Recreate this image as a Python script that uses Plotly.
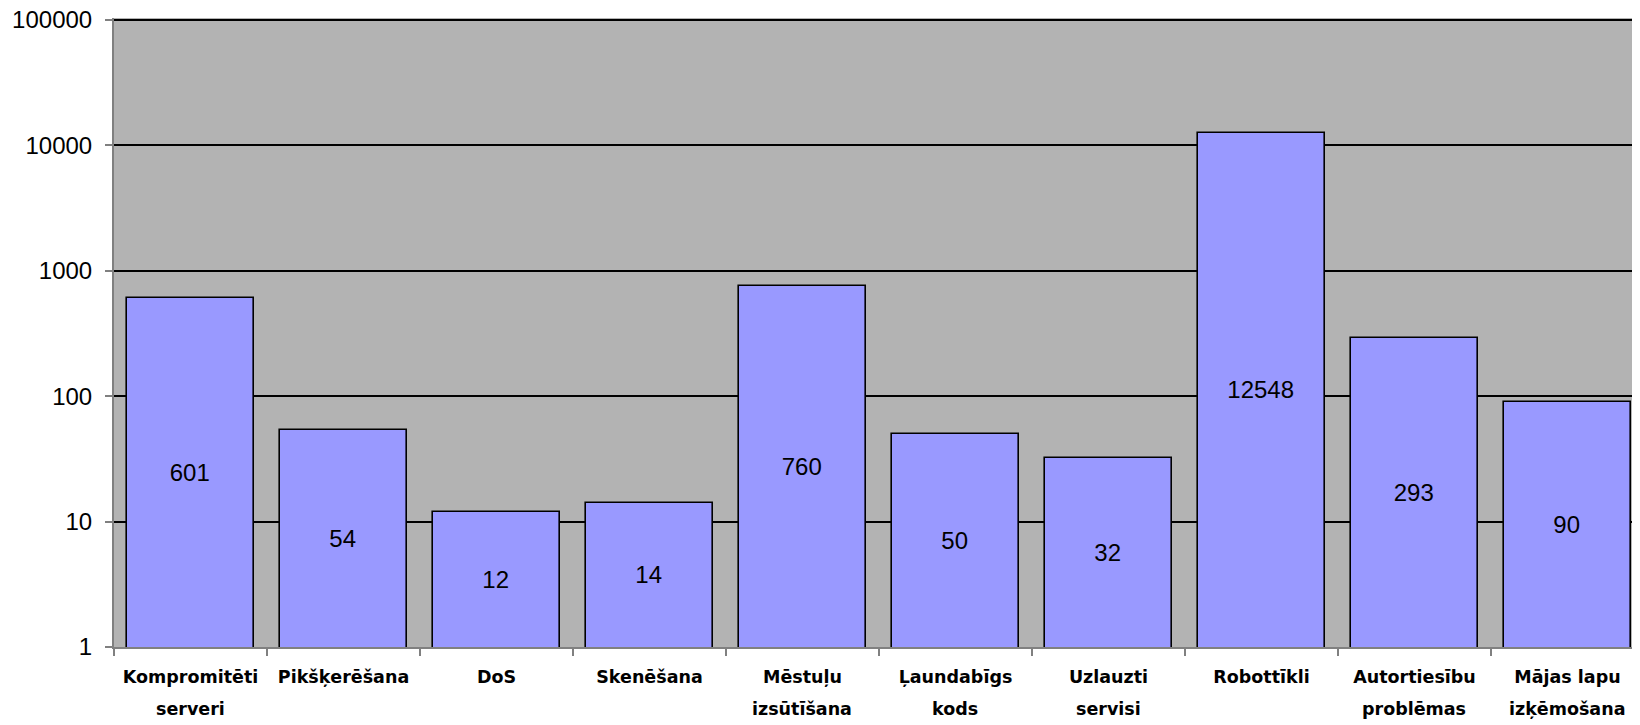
import plotly.graph_objects as go

line1 = ["Kompromitēti", "Pikšķerēšana", "DoS", "Skenēšana", "Mēstuļu",
         "Ļaundabīgs", "Uzlauzti", "Robottīkli", "Autortiesību", "Mājas lapu"]
line2 = ["serveri", "", "", "", "izsūtīšana", "kods", "servisi", "", "problēmas", "izķēmošana"]
values = [601, 54, 12, 14, 760, 50, 32, 12548, 293, 90]
ytickvals = [1, 10, 100, 1000, 10000, 100000]
yticktext = ["1", "10", "100", "1000", "10000", "100000"]

fig = go.Figure()
fig.add_trace(go.Bar(
    x=line1, y=values, width=0.835,
    marker=dict(color="#9999FF", line=dict(color="#000000", width=1.6)),
    text=[str(v) for v in values], textposition="inside",
    insidetextanchor="middle", textangle=0, constraintext="none",
    textfont=dict(family="Liberation Sans, Arial", size=24, color="#000000"),
    hoverinfo="skip",
))

for name, t in zip(line1, line2):
    if t:
        fig.add_annotation(x=name, y=0, xref="x", yref="paper", text="<b>%s</b>" % t,
                           showarrow=False, yanchor="top", yshift=-50,
                           font=dict(family="DejaVu Sans", size=17.5, color="#000000"))

fig.update_layout(
    width=1632, height=717,
    margin=dict(l=106, r=0, t=10, b=78),
    paper_bgcolor="#FFFFFF", plot_bgcolor="#B3B3B3",
    showlegend=False,
    bargap=0,
)
fig.update_xaxes(
    type="category", range=[-0.5, 9.474],
    tickmode="array", tickvals=line1,
    ticktext=["<b>%s</b>" % s for s in line1],
    tickfont=dict(family="DejaVu Sans", size=17.5, color="#000000"),
    tickson="boundaries", ticks="outside", ticklen=7, tickcolor="#808080", tickwidth=1.5,
    showline=True, linecolor="#808080", linewidth=2, showgrid=False,
    ticklabelstandoff=13, automargin=False, ticklabeloverflow="allow",
)
fig.update_yaxes(
    type="log", range=[0, 5.015], tickmode="array", tickvals=ytickvals, ticktext=yticktext,
    tickfont=dict(family="Liberation Sans, Arial", size=24, color="#000000"),
    ticks="outside", ticklen=7, tickcolor="#808080", tickwidth=1.5,
    showline=True, linecolor="#808080", linewidth=2,
    showgrid=True, gridcolor="#000000", gridwidth=2,
    ticklabelstandoff=8, automargin=False, ticklabeloverflow="allow",
)

fig.write_html("out.html")
